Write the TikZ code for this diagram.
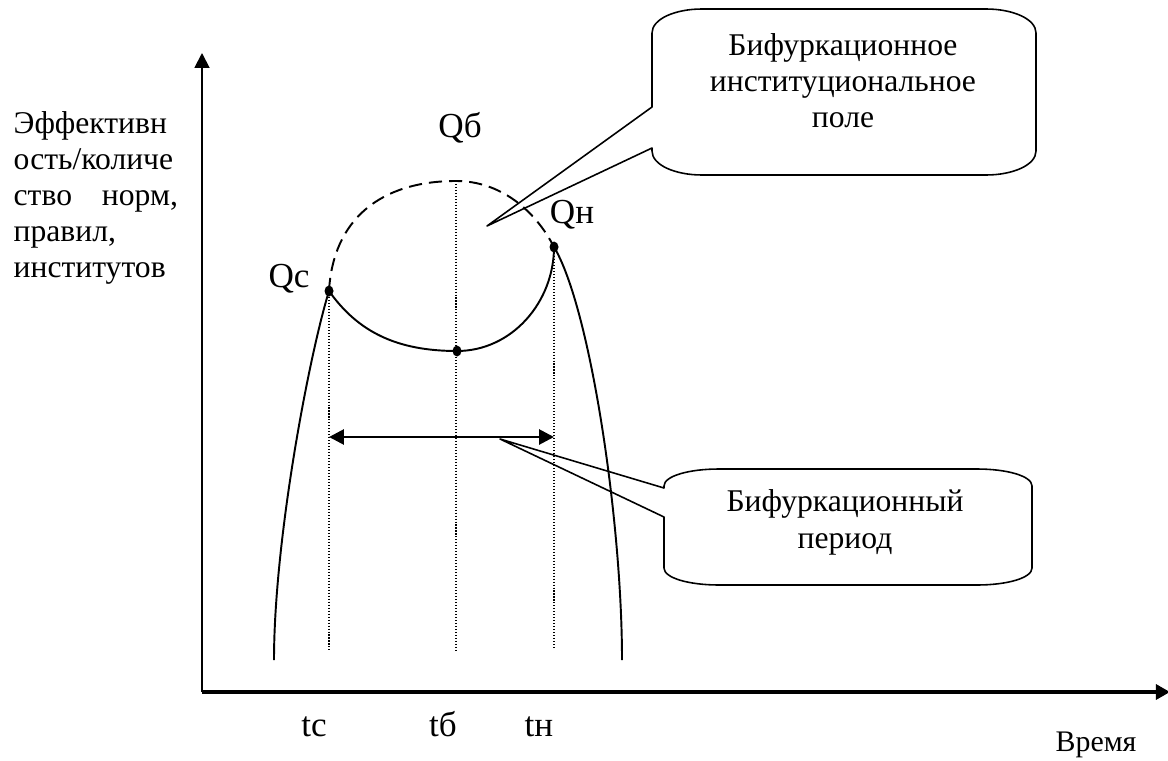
\documentclass[tikz,border=0pt]{standalone}
\usepackage{fontspec}
\setmainfont{Liberation Serif}
\usetikzlibrary{arrows.meta,shapes.geometric,positioning,calc}
\tikzset{
  every picture/.style={line width=0.8pt},
  saxisy/.style={line width=1.1pt, -{Triangle[length=8.5pt,width=8.5pt]}},
  saxisx/.style={line width=1.9pt, -{Triangle[length=8pt,width=8.5pt]}},
  scurve/.style={line width=1.1pt},
  sdash/.style={scurve, dash pattern=on 7.5pt off 4pt},
  sguide/.style={line width=0.6pt, dash pattern=on 0.6pt off 1.1pt},
  sspan/.style={line width=1.6pt, {Triangle[length=8.5pt,width=8.5pt]}-{Triangle[length=8.5pt,width=8.5pt]}},
  scall/.style={line width=0.9pt, line join=round},
  sdot/.style={ellipse, fill=black, inner sep=0pt, minimum width=0.18cm, minimum height=0.22cm},
  slab/.style={font=\fontsize{20}{22}\selectfont, anchor=base, inner sep=0pt},
  stext/.style={font=\fontsize{18}{20.7}\selectfont, align=center, anchor=base, inner sep=0pt},
}

\begin{document}
\begin{tikzpicture}[x=0.02cm, y=-0.02cm]
  \useasboundingbox (0,0) rectangle (1168,760);
  % axes
  \coordinate (O) at (202,692);
  \coordinate (ytop) at (202,53);
  \coordinate (xend) at (1170,692);
  \draw[saxisy] (O) -- (ytop);
  \draw[saxisx] (O) -- (xend);
  % base anchor of a multi-line node sits on its last line
  \node[font=\fontsize{18}{20.4}\selectfont, align=left, anchor=base west, inner sep=0pt]
        (ylab) at (13,277)
        {Эффективн\\ость/количе\\\hbox to 93.5pt{ство\hfill норм,}\\правил,\\институтов};
  \node[font=\fontsize{17}{19}\selectfont, anchor=base, inner sep=0pt] (xlab) at (1096,751) {Время};

  % points on the curve
  \node[sdot] (qc) at (329,291) {};
  \node[sdot] (qm) at (457,351) {};
  \node[sdot] (qn) at (554,247) {};
  \coordinate (qtop) at (456,181);
  \coordinate (lb) at (274,660);
  \coordinate (rb) at (622,660);
  \coordinate (base) at (0,650);
  \coordinate (span) at (0,437);

  \node[slab] (lqc) at (289,287) {Qс};
  \node[slab] (lqb) at (460,138) {Qб};
  \node[slab] (lqn) at (572,223) {Qн};
  \node[slab] (ltc) at (314,736) {tс};
  \node[slab] (ltb) at (443,736) {tб};
  \node[slab] (ltn) at (539,736) {tн};

  % guides
  \draw[sguide] (qc.center) -- (qc |- base);
  \draw[sguide] (qtop) -- (qtop |- base);
  \draw[sguide] (qn.center) -- (qn |- base);

  % curves
  \draw[scurve] (lb) .. controls (274,540) and (309,356) .. (qc.center);
  \draw[scurve] (qc.center) .. controls (358,332) and (397,351) .. (qm.center)
                            .. controls (512,351) and (554,302) .. (qn.center);
  \draw[sdash] (qc.center) .. controls (333,220) and (380,181) .. (qtop)
                           .. controls (500,181) and (535,210) .. (qn.center);
  \draw[scurve] (qn.center) .. controls (590,307) and (622,520) .. (rb);

  % period arrow
  \draw[sspan] (qc |- span) -- (qn |- span);

  % callouts
  \coordinate (tipF) at (487,226);
  \coordinate (tipP) at (500,439);
  \draw[scall] (652,148) -- (tipF) -- (652,107) -- (652,33)
        .. controls (652,19) and (675,9) .. (702,9) -- (986,9)
        .. controls (1013,9) and (1036,19) .. (1036,33) -- (1036,151)
        .. controls (1036,165) and (1013,175) .. (986,175) -- (702,175)
        .. controls (675,175) and (652,165) .. (652,151) -- cycle;
  \node[stext] (tfield) at (843,128) {Бифуркационное\\институциональное\\поле};

  \draw[scall] (664,517) -- (tipP) -- (664,488) -- (664,486)
        .. controls (664,476) and (689,469) .. (719,469) -- (977,469)
        .. controls (1007,469) and (1032,476) .. (1032,486) -- (1032,568)
        .. controls (1032,578) and (1007,585) .. (977,585) -- (719,585)
        .. controls (689,585) and (664,578) .. (664,568) -- cycle;
  \node[stext] (tperiod) at (845,548) {Бифуркационный\\период};
\end{tikzpicture}
\end{document}
